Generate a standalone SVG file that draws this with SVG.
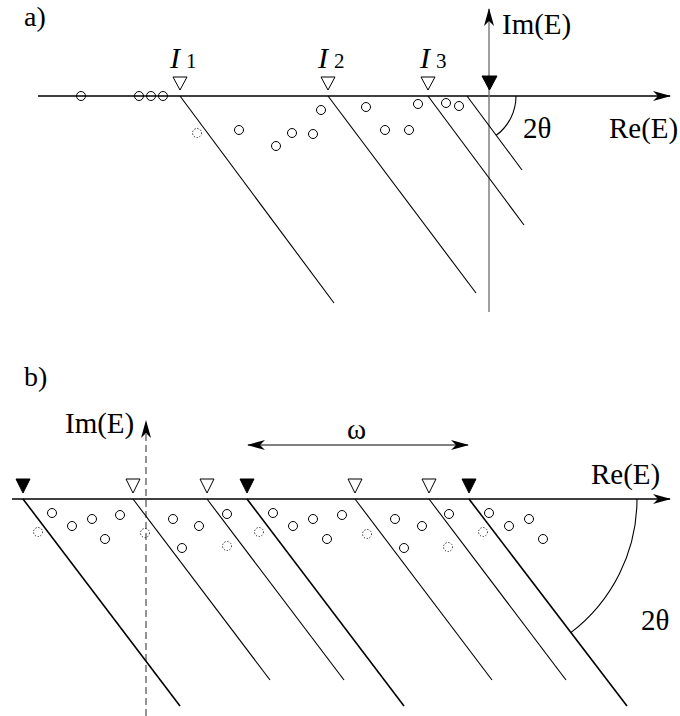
<svg xmlns="http://www.w3.org/2000/svg" width="680" height="716" viewBox="0 0 680 716">
<style>
.t{font-family:"Liberation Serif","Times New Roman",serif;fill:#000;font-size:29px}
.ln{stroke:#000;stroke-width:1.1;fill:none}
.thk{stroke:#000;stroke-width:1.6;fill:none}
.ax{stroke:#000;stroke-width:1.3;fill:none}
.c{fill:none;stroke:#000;stroke-width:1}
.d{fill:none;stroke:#000;stroke-width:0.9;stroke-dasharray:1.2,1.8}
.ot{fill:#fff;stroke:#000;stroke-width:1}
.ft{fill:#000;stroke:#000;stroke-width:1}
.iv{font-style:italic;font-size:30px}
.sb{font-size:21px}
.pl{font-size:28px}
</style>
<defs>
<marker id="ah" viewBox="0 0 18 10" refX="17" refY="5" markerWidth="18" markerHeight="10" markerUnits="userSpaceOnUse" orient="auto-start-reverse">
<path d="M0,0 L18,5 L0,10 L5,5 Z" fill="#000"/>
</marker>
</defs>
<rect width="680" height="716" fill="#fff"/>

<g id="panel-a">
<text class="t pl" x="24" y="26">a)</text>
<g id="a-axes">
<line class="ax" x1="38" y1="96" x2="670" y2="96" marker-end="url(#ah)"/>
<line x1="489" y1="312" x2="489" y2="9" stroke="#777" stroke-width="1.4" marker-end="url(#ah)"/>
<polygon class="ft" points="482,76 497,76 489.5,90"/>
<text class="t" x="502" y="34">Im(E)</text>
<text class="t" x="609" y="138">Re(E)</text>
</g>
<g id="a-cuts">
<line class="ln" x1="180" y1="96" x2="334" y2="303"/>
<line class="ln" x1="328" y1="96" x2="476" y2="293"/>
<line class="ln" x1="428" y1="96" x2="524" y2="225"/>
<line class="ln" x1="467" y1="96" x2="522" y2="170"/>
<path class="ln" d="M516,96 A49,49 0 0 1 496.3,135.3"/>
<text class="t" x="523" y="138">2θ</text>
</g>
<g id="a-thresholds">
<polygon class="ot" points="173,77 187,77 180,90"/>
<polygon class="ot" points="321,77 335,77 328,90"/>
<polygon class="ot" points="421,77 435,77 428,90"/>
<text class="t iv" x="170" y="68">I</text>
<text class="t sb" x="186" y="68">1</text>
<text class="t iv" x="318" y="68">I</text>
<text class="t sb" x="334" y="68">2</text>
<text class="t iv" x="420" y="68">I</text>
<text class="t sb" x="436" y="68">3</text>
</g>
<g id="a-poles">
<circle class="c" cx="81" cy="96" r="4.5"/>
<circle class="c" cx="139" cy="96" r="4.5"/>
<circle class="c" cx="151" cy="96" r="4.5"/>
<circle class="c" cx="163" cy="96" r="4.5"/>
<circle class="d" cx="197" cy="133" r="4.5"/>
<circle class="c" cx="239" cy="130" r="4.5"/>
<circle class="c" cx="276" cy="146" r="4.5"/>
<circle class="c" cx="292" cy="133" r="4.5"/>
<circle class="c" cx="313" cy="134" r="4.5"/>
<circle class="c" cx="321" cy="110" r="4.5"/>
<circle class="c" cx="366" cy="107" r="4.5"/>
<circle class="c" cx="385" cy="130" r="4.5"/>
<circle class="c" cx="409" cy="130" r="4.5"/>
<circle class="c" cx="418" cy="104" r="4.5"/>
<circle class="c" cx="446" cy="103" r="4.5"/>
<circle class="c" cx="459" cy="106" r="4.5"/>
</g>
</g>

<g id="panel-b">
<text class="t pl" x="24" y="386">b)</text>
<g id="b-axes">
<line class="ax" x1="12" y1="499" x2="670" y2="499" marker-end="url(#ah)"/>
<line x1="146" y1="716" x2="146" y2="421" stroke="#666" stroke-width="1.4" stroke-dasharray="7,4" marker-end="url(#ah)"/>
<text class="t" x="65" y="433">Im(E)</text>
<text class="t" x="591" y="484">Re(E)</text>
</g>
<g id="b-period">
<line class="ln" x1="248" y1="445" x2="468" y2="445" marker-start="url(#ah)" marker-end="url(#ah)"/>
<text class="t" x="347" y="439">ω</text>
</g>
<g id="b-cuts">
<line class="thk" x1="23" y1="499" x2="180" y2="706"/>
<line class="thk" x1="247" y1="499" x2="404" y2="706"/>
<line class="thk" x1="469" y1="499" x2="627" y2="706"/>
<line class="ln" x1="133" y1="499" x2="270" y2="680"/>
<line class="ln" x1="207" y1="499" x2="344" y2="680"/>
<line class="ln" x1="355" y1="499" x2="492" y2="680"/>
<line class="ln" x1="429" y1="499" x2="566" y2="680"/>
<path class="ln" d="M637,499 A168,168 0 0 1 570.5,632.9"/>
<text class="t" x="641" y="630">2θ</text>
</g>
<g id="b-thresholds">
<polygon class="ft" points="16,479 30,479 23,493"/>
<polygon class="ot" points="126,479 140,479 133,493"/>
<polygon class="ot" points="200,479 214,479 207,493"/>
<polygon class="ft" points="240,479 254,479 247,493"/>
<polygon class="ot" points="348,479 362,479 355,493"/>
<polygon class="ot" points="422,479 436,479 429,493"/>
<polygon class="ft" points="462,479 476,479 469,493"/>
</g>
<g id="b-poles">
<circle class="c" cx="52" cy="513" r="4.5"/>
<circle class="c" cx="72" cy="526" r="4.5"/>
<circle class="c" cx="92" cy="519" r="4.5"/>
<circle class="c" cx="120" cy="515" r="4.5"/>
<circle class="c" cx="105" cy="539" r="4.5"/>
<circle class="c" cx="173" cy="519" r="4.5"/>
<circle class="c" cx="199" cy="526" r="4.5"/>
<circle class="c" cx="182" cy="548" r="4.5"/>
<circle class="c" cx="227" cy="514" r="4.5"/>
<circle class="c" cx="273" cy="513" r="4.5"/>
<circle class="c" cx="293" cy="526" r="4.5"/>
<circle class="c" cx="313" cy="519" r="4.5"/>
<circle class="c" cx="342" cy="515" r="4.5"/>
<circle class="c" cx="327" cy="539" r="4.5"/>
<circle class="c" cx="395" cy="519" r="4.5"/>
<circle class="c" cx="422" cy="526" r="4.5"/>
<circle class="c" cx="404" cy="548" r="4.5"/>
<circle class="c" cx="449" cy="514" r="4.5"/>
<circle class="c" cx="489" cy="513" r="4.5"/>
<circle class="c" cx="509" cy="526" r="4.5"/>
<circle class="c" cx="529" cy="519" r="4.5"/>
<circle class="c" cx="543" cy="539" r="4.5"/>
<circle class="d" cx="38" cy="532" r="4.5"/>
<circle class="d" cx="145" cy="533" r="4.5"/>
<circle class="d" cx="227" cy="546" r="4.5"/>
<circle class="d" cx="259" cy="532" r="4.5"/>
<circle class="d" cx="367" cy="534" r="4.5"/>
<circle class="d" cx="448" cy="547" r="4.5"/>
<circle class="d" cx="483" cy="532" r="4.5"/>
</g>
</g>
</svg>
